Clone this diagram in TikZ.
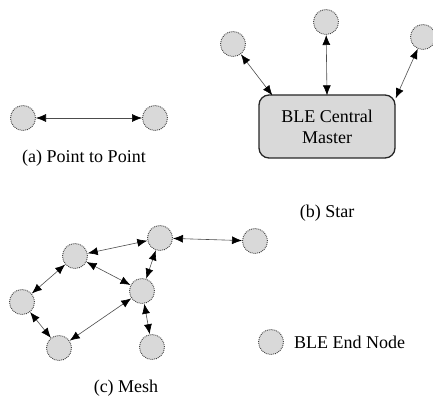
\documentclass[tikz,border=0pt]{standalone}
\usepackage{fontspec}
\setmainfont{Liberation Serif}
\usetikzlibrary{arrows.meta}
\begin{document}
\begin{tikzpicture}[x=1pt,y=-1pt,
  endnode/.style={circle,draw=black!75,densely dotted,line width=0.9pt,fill=black!15,minimum size=25pt,inner sep=0pt,outer sep=0.5pt},
  link/.style={{Latex[length=10pt,width=8pt,black]}-{Latex[length=10pt,width=8pt,black]},draw=black!70,line width=0.6pt},
  lbl/.style={font=\rmfamily\fontsize{18}{20}\selectfont,inner sep=0pt},
  master/.style={draw=black!85,line width=1.3pt,fill=black!15,rounded corners=10pt,minimum width=136pt,minimum height=63pt,align=center,font=\rmfamily\fontsize{18}{21}\selectfont}]
\useasboundingbox (0,0) rectangle (433,398);
% (a) point to point
\node[endnode] (p1) at (23,118) {};
\node[endnode] (p2) at (155,118) {};
\draw[link] (p1) -- (p2);
\node[lbl] (la) at (84,158) {(a) Point to Point};
% (b) star
\node[master] (box) at (327,126.5) {BLE Central\\Master};
\node[endnode] (s1) at (233,44) {};
\node[endnode] (s2) at (326,22) {};
\node[endnode] (s3) at (423,37) {};
\coordinate (b1) at ([xshift=14pt,yshift=-1pt]box.north west);
\coordinate (b2) at ([yshift=-1pt]box.north);
\coordinate (b3) at ([xshift=0pt,yshift=-4pt]box.north east);
\draw[link] (s1) -- (b1);
\draw[link] (s2) -- (b2);
\draw[link] (s3) -- (b3);
\node[lbl] (lb) at (327,213) {(b) Star};
% (c) mesh
\node[endnode] (A) at (160,238) {};
\node[endnode] (B) at (255,241) {};
\node[endnode] (C) at (75,256) {};
\node[endnode] (D) at (142,291) {};
\node[endnode] (E) at (22,302) {};
\node[endnode] (F) at (59,348) {};
\node[endnode] (G) at (152,347) {};
\draw[link] (A) -- (B);
\draw[link] (A) -- (C);
\draw[link] (A) -- (D);
\draw[link] (C) -- (E);
\draw[link] (C) -- (D);
\draw[link] (E) -- (F);
\draw[link] (F) -- (D);
\draw[link] (D) -- (G);
\node[lbl] (lc) at (126,388) {(c) Mesh};
% legend
\node[endnode] (L) at (271,342) {};
\node[lbl,anchor=west] (lt) at (294,342) {BLE End Node};
\end{tikzpicture}
\end{document}
